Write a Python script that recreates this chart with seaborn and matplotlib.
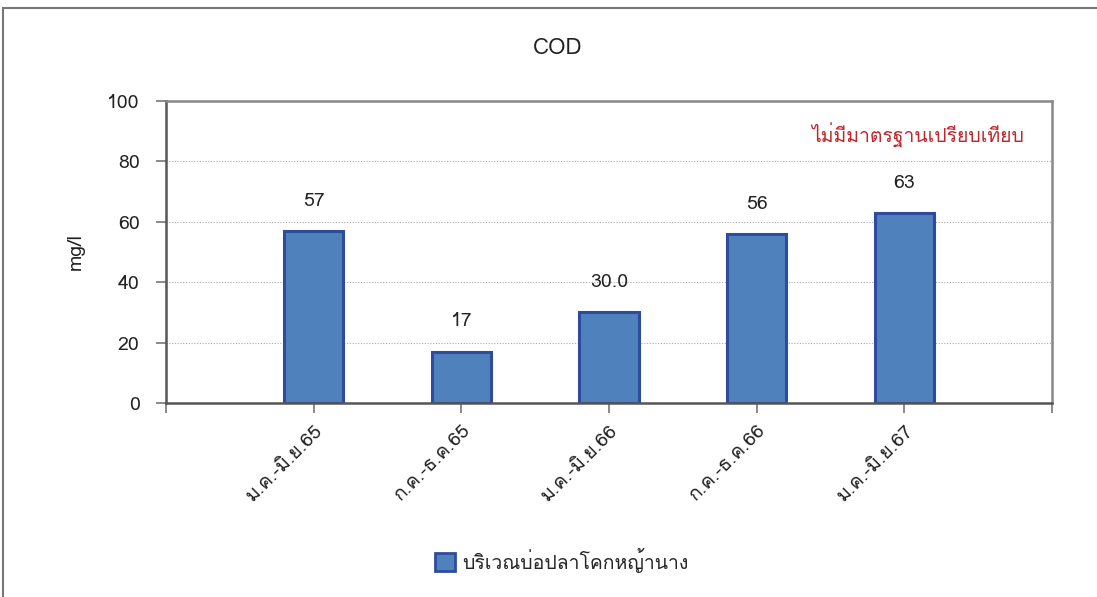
import numpy as np
import pandas as pd
import matplotlib
matplotlib.use("Agg")
import matplotlib.pyplot as plt
from matplotlib import font_manager
from matplotlib.ft2font import FT2Font
from matplotlib.patches import Rectangle
import seaborn as sns

categories = ["ม.ค.-มิ.ย.65", "ก.ค.-ธ.ค.65", "ม.ค.-มิ.ย.66", "ก.ค.-ธ.ค.66", "ม.ค.-มิ.ย.67"]
values = [57, 17, 30.0, 56, 63]
value_labels = ["57", "17", "30.0", "56", "63"]
series_name = "บริเวณบ่อปลาโคกหญ้านาง"
note_text = "ไม่มีมาตรฐานเปรียบเทียบ"
title_text = "COD"
y_label = "mg/l"
y_ticks = [0, 20, 40, 60, 80, 100]

# find a font that has Thai glyphs
thai_family = None
for f in font_manager.fontManager.ttflist:
    try:
        cm = FT2Font(f.fname).get_charmap()
        if 0x0E01 in cm and 0x0E21 in cm:
            thai_family = f.name
            break
    except Exception:
        pass

sns.set_theme(style="white")
fams = ([thai_family] if thai_family else []) + ["DejaVu Sans"]
plt.rcParams["font.family"] = fams

df = pd.DataFrame({"pos": np.arange(1, len(categories) + 1), "value": values, "series": series_name})

fig = plt.figure(figsize=(10.97, 5.97), dpi=100)
ax = fig.add_axes([166 / 1097, 1 - 403 / 597, (1052 - 166) / 1097, (403 - 101) / 597])

sns.barplot(data=df, x="pos", y="value", hue="series", native_scale=True,
            palette=["#4F81BD"], edgecolor="#2E4C9E", linewidth=2.2,
            width=0.4, saturation=1, ax=ax, legend=False)

ax.set_xlim(0, 6)
ax.set_ylim(0, 100)
ax.set_yticks(y_ticks)
ax.set_yticklabels([str(t) for t in y_ticks], fontsize=14, color="#222222")
ax.set_xticks(range(0, 7))
ax.set_xticklabels([""] + categories + [""], rotation=45, ha="right",
                   rotation_mode="anchor", fontsize=14, color="#222222")
ax.tick_params(axis="both", which="both", direction="out", length=7, width=1.2, color="#777777",
               bottom=True, left=True)
ax.tick_params(axis="x", pad=6)
ax.tick_params(axis="y", pad=12)

for y in y_ticks[1:-1]:
    ax.axhline(y, color="#AAAAAA", linestyle=(0, (1, 1.5)), linewidth=0.8, zorder=0)

for sp in ["left", "bottom"]:
    ax.spines[sp].set_color("#555555")
    ax.spines[sp].set_linewidth(1.8)
for sp in ["top", "right"]:
    ax.spines[sp].set_color("#888888")
    ax.spines[sp].set_linewidth(1.8)

ax.set_xlabel("")
ax.set_ylabel(y_label, fontsize=14, color="#222222", labelpad=16)

for p, v, lab in zip(df["pos"], values, value_labels):
    ax.text(p, v + 10, lab, ha="center", va="center", fontsize=14, color="#222222")

ax.text(918 / 1097, 1 - 135 / 597, note_text, transform=fig.transFigure, ha="center", va="center",
        fontsize=14, color="#C0272D")

fig.text(558 / 1097, 1 - 48 / 597, title_text, ha="center", va="center", fontsize=16, color="#222222")

# legend
handle = Rectangle((0, 0), 1, 1, facecolor="#4F81BD", edgecolor="#2E4C9E", linewidth=2)
fig.legend([handle], [series_name], loc="center", bbox_to_anchor=(562 / 1097, 1 - 560 / 597),
           frameon=False, fontsize=14, handlelength=1.0, handleheight=1.0, handletextpad=0.4)

# outer frame
fig.patches.append(Rectangle((3 / 1097, -0.01), 1.02, 1 - 8 / 597 + 0.01, transform=fig.transFigure,
                             fill=False, edgecolor="#777777", linewidth=1.5))

fig.savefig("out.png", dpi=100)
